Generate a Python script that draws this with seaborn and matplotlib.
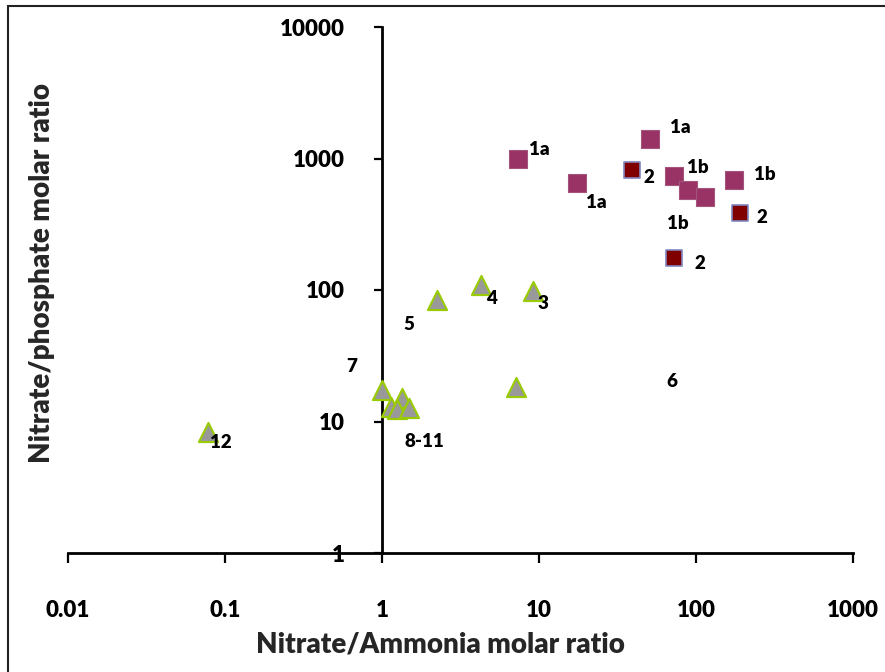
import numpy as np
import pandas as pd
import matplotlib
matplotlib.use("Agg")
import matplotlib.pyplot as plt
import seaborn as sns
from matplotlib.patches import Rectangle
from matplotlib.ticker import NullLocator

# --- data ---
sq_a_x = [7.35, 17.5, 50.9, 72.4, 88.9, 114.0, 175.0]
sq_a_y = [1000, 651, 1407, 736, 576, 510, 687]

sq_b_x = [39.1, 190.6, 72.4]
sq_b_y = [818, 385, 175]

tri_x = [4.27, 9.16, 2.24, 7.14, 1.0, 1.34, 1.14, 1.25, 1.49, 0.078]
tri_y = [109, 98, 84, 18.3, 17.4, 15.1, 12.9, 12.4, 12.7, 8.3]

label_text = ["1a", "1a", "1a", "2", "1b", "1b", "1b", "2", "2",
              "4", "3", "5", "7", "6", "8-11", "12"]
label_x = [10.1, 23.1, 79.1, 50.2, 103, 275, 76.8, 263, 106,
           5.02, 10.6, 1.49, 0.644, 70.3, 1.85, 0.094]
label_y = [1161, 459, 1706, 711, 861, 762, 323, 359, 160,
           86.9, 79.6, 55.1, 26.0, 20.0, 7.1, 6.87]

x_ticks = [0.01, 0.1, 1, 10, 100, 1000]
x_tick_labels = ["0.01", "0.1", "1", "10", "100", "1000"]
y_ticks = [1, 10, 100, 1000, 10000]
y_tick_labels = ["1", "10", "100", "1000", "10000"]

W = "heavy"

sns.set_style("ticks")
plt.rcParams["font.family"] = ["Lato", "DejaVu Sans"]
plt.rcParams["font.weight"] = W

df_a = pd.DataFrame({"x": sq_a_x, "y": sq_a_y})
df_b = pd.DataFrame({"x": sq_b_x, "y": sq_b_y})
df_t = pd.DataFrame({"x": tri_x, "y": tri_y})

fig = plt.figure(figsize=(8.85, 6.72), dpi=100)
ax = fig.add_axes([68 / 885, 1 - 553 / 672, 785 / 885, 526 / 672])

sns.scatterplot(data=df_a, x="x", y="y", marker="s", s=150, color="#993366",
                edgecolor="#a5547c", linewidth=0.8, ax=ax, zorder=3)
sns.scatterplot(data=df_b, x="x", y="y", marker="s", s=120, color="#800000",
                edgecolor="#7f86c0", linewidth=1.2, ax=ax, zorder=3)
sns.scatterplot(data=df_t, x="x", y="y", marker="^", s=190, color="#999999",
                edgecolor="#99cc00", linewidth=1.5, ax=ax, zorder=3)

for t, lx, ly in zip(label_text, label_x, label_y):
    ax.text(lx, ly, t, fontsize=13.5, fontweight=W, ha="center",
            va="center", color="black")

ax.set_xscale("log")
ax.set_yscale("log")
ax.set_xlim(0.01, 1000)
ax.set_ylim(1, 10000)
ax.set_xticks(x_ticks, x_tick_labels)
ax.set_yticks(y_ticks, y_tick_labels)
ax.xaxis.set_minor_locator(NullLocator())
ax.yaxis.set_minor_locator(NullLocator())

ax.spines["top"].set_visible(False)
ax.spines["right"].set_visible(False)
ax.spines["left"].set_position(("data", 1))
for sp in ["left", "bottom"]:
    ax.spines[sp].set_linewidth(2.0)
    ax.spines[sp].set_color("black")

ax.tick_params(axis="x", direction="out", length=7, width=1.6, pad=27,
               labelsize=16, colors="black")
ax.tick_params(axis="y", direction="out", length=6, width=1.6, pad=21,
               labelsize=16, colors="black")
for lab in ax.get_xticklabels() + ax.get_yticklabels():
    lab.set_fontweight(W)

ax.set_xlabel("Nitrate/Ammonia molar ratio", fontsize=20, fontweight=W)
ax.set_ylabel("Nitrate/phosphate molar ratio", fontsize=20, fontweight=W)
ax.xaxis.set_label_coords(0.475, -0.150)
ax.yaxis.set_label_coords(-0.016, 0.532)
ax.grid(False)

fig.patches.append(Rectangle((8 / 885, -0.01), 1.0, 1 - 6 / 672 + 0.01,
                             transform=fig.transFigure, fill=False,
                             edgecolor="#222222", linewidth=1.5))

fig.savefig("out.png", dpi=100)
